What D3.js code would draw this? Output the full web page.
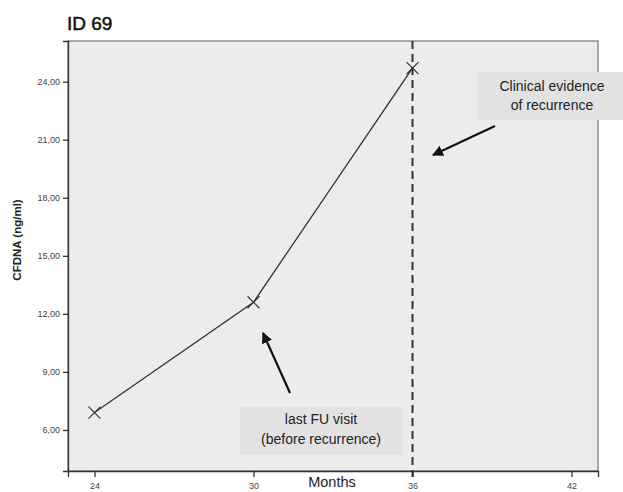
<!DOCTYPE html>
<html>
<head>
<meta charset="utf-8">
<script src="https://cdn.jsdelivr.net/npm/d3@7"></script>
<style>
body { margin: 0; background: #fff; }
text { font-family: "Liberation Sans", Arial, sans-serif; }
</style>
</head>
<body>
<div id="chart"></div>
<script>
// data
var months = [24, 30, 36];
var cfdna = [6.9, 12.6, 24.7];
var xTicks = [24, 30, 36, 42];
var yTicks = [6, 9, 12, 15, 18, 21, 24];
var recurrenceMonth = 36;

w = 623
h = 492
var m = {left: 68, top: 41, right: 25, bottom: 21};

var svg = d3.select("#chart")
  .append("svg")
  .attr("width", w)
  .attr("height", h);

var x = d3.scaleLinear().domain([23, 43]).range([m.left, w - m.right]);
var y = d3.scaleLinear().domain([3.88, 26.1]).range([h - m.bottom, m.top]);

// plot background
svg.append("rect")
  .attr("x", m.left).attr("y", m.top)
  .attr("width", w - m.right - m.left)
  .attr("height", h - m.bottom - m.top)
  .attr("fill", "#ececec")
  .attr("stroke", "#777")
  .attr("stroke-width", 1.2);

// axes
var fmt = d => d3.format(".2f")(d).replace(".", ",");
var yAxis = svg.append("g")
  .attr("transform", "translate(" + m.left + ",0)")
  .call(d3.axisLeft(y).tickValues(yTicks).tickFormat(fmt).tickSize(5).tickPadding(3));
var xAxis = svg.append("g")
  .attr("transform", "translate(0," + (h - m.bottom) + ")")
  .call(d3.axisBottom(x).tickValues(xTicks).tickFormat(d3.format("d")).tickSize(6).tickPadding(6));
[yAxis, xAxis].forEach(function(a) {
  a.select(".domain").attr("stroke", "#333").attr("stroke-width", 1.3);
  a.selectAll(".tick line").attr("stroke", "#333").attr("stroke-width", 1.3);
  a.selectAll(".tick text").attr("fill", "#444").style("font-size", "9px");
});

// dashed recurrence line
svg.append("line")
  .attr("x1", x(recurrenceMonth)).attr("x2", x(recurrenceMonth))
  .attr("y1", m.top).attr("y2", h - m.bottom + 6)
  .attr("stroke", "#333")
  .attr("stroke-width", 2)
  .attr("stroke-dasharray", "8,5");

// line + cross markers
var pts = months.map((d, i) => ({m: d, v: cfdna[i]}));
svg.append("path")
  .datum(pts)
  .attr("fill", "none")
  .attr("stroke", "#333")
  .attr("stroke-width", 1.3)
  .attr("d", d3.line().x(d => x(d.m)).y(d => y(d.v)));

svg.append("g")
  .selectAll("path")
  .data(pts)
  .enter()
  .append("path")
  .attr("d", d => {
    var cx = x(d.m), cy = y(d.v), r = 6;
    return "M" + (cx - r) + "," + (cy - r) + "L" + (cx + r) + "," + (cy + r) +
           "M" + (cx - r) + "," + (cy + r) + "L" + (cx + r) + "," + (cy - r);
  })
  .attr("stroke", "#333")
  .attr("stroke-width", 1.2);

// annotation boxes
svg.append("rect").attr("x", 477).attr("y", 72).attr("width", 150).attr("height", 48).attr("fill", "#e2e2e2");
svg.append("rect").attr("x", 240).attr("y", 407).attr("width", 163).attr("height", 48).attr("fill", "#e2e2e2");

var notes = [
  {x: 552, y: 91, t: "Clinical evidence"},
  {x: 552, y: 110, t: "of recurrence"},
  {x: 321, y: 424, t: "last FU visit"},
  {x: 321, y: 444, t: "(before recurrence)"}
];
svg.append("g")
  .selectAll("text")
  .data(notes)
  .enter()
  .append("text")
  .attr("x", d => d.x).attr("y", d => d.y)
  .attr("text-anchor", "middle")
  .attr("fill", "#222")
  .style("font-size", "14px")
  .text(d => d.t);

// arrows
svg.append("defs").append("marker")
  .attr("id", "ah")
  .attr("viewBox", "0 0 10 10")
  .attr("refX", 9).attr("refY", 5)
  .attr("markerWidth", 5).attr("markerHeight", 5)
  .attr("orient", "auto")
  .append("path").attr("d", "M0,0L10,5L0,10z").attr("fill", "#111");

[[495, 126, 433, 155], [290, 393, 263, 333]].forEach(function(a) {
  svg.append("line")
    .attr("x1", a[0]).attr("y1", a[1]).attr("x2", a[2]).attr("y2", a[3])
    .attr("stroke", "#111").attr("stroke-width", 2.2)
    .attr("marker-end", "url(#ah)");
});

// titles
svg.append("text")
  .attr("x", 67).attr("y", 30)
  .style("font-size", "19px")
  .attr("fill", "#111")
  .attr("stroke", "#111")
  .attr("stroke-width", 0.5)
  .text("ID 69");

svg.append("text")
  .attr("transform", "translate(21,240) rotate(-90)")
  .attr("text-anchor", "middle")
  .style("font-size", "11.5px")
  .style("font-weight", "bold")
  .attr("fill", "#222")
  .text("CFDNA (ng/ml)");

svg.append("text")
  .attr("x", 332).attr("y", 487)
  .attr("text-anchor", "middle")
  .style("font-size", "14.5px")
  .attr("fill", "#222")
  .text("Months");
</script>
</body>
</html>
